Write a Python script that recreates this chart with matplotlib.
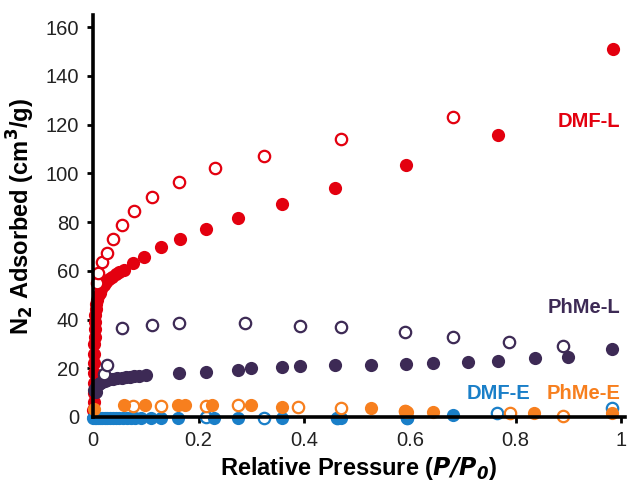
import matplotlib
matplotlib.use("Agg")
import matplotlib.pyplot as plt

plt.rcParams['font.family'] = ['Liberation Sans', 'DejaVu Sans']

# DMF-L (red)
dmfl_ads_x = [0.0005, 0.001, 0.001, 0.0015, 0.0015, 0.002, 0.002, 0.0025, 0.003, 0.003,
              0.0035, 0.004, 0.005, 0.006, 0.008, 0.010, 0.013, 0.016, 0.020, 0.025,
              0.030, 0.036, 0.043, 0.050, 0.059, 0.076, 0.097, 0.129, 0.164, 0.214,
              0.275, 0.357, 0.459, 0.592, 0.767, 0.985]
dmfl_ads_y = [3, 6, 10, 14, 18, 22, 26, 30, 33, 36,
              39, 42, 44.5, 46.5, 48, 49.5, 51, 52.5, 54, 55.5,
              56.5, 57.5, 58.5, 59.5, 60.5, 63, 65.6, 69.7, 73, 77,
              81.6, 87.4, 94, 103.4, 115.7, 151]
dmfl_des_x = [0.007, 0.010, 0.018, 0.026, 0.037, 0.055, 0.078, 0.111, 0.162, 0.231, 0.323, 0.469, 0.681]
dmfl_des_y = [55, 59, 63.6, 67.3, 73, 78.8, 84.6, 90.3, 96.4, 102, 107, 114, 123]

# PhMe-L (dark purple)
phmel_ads_x = [0.002, 0.003, 0.005, 0.006, 0.008, 0.011, 0.014, 0.018, 0.022, 0.027, 0.032,
               0.037, 0.046, 0.054, 0.062, 0.070, 0.078, 0.088, 0.100, 0.163, 0.214, 0.274,
               0.300, 0.358, 0.391, 0.459, 0.527, 0.592, 0.644, 0.709, 0.767, 0.837, 0.899, 0.983]
phmel_ads_y = [11, 10.5, 10.3, 12.3, 13, 13.5, 14, 14.4, 14.8, 15.2, 15.4,
               15.6, 16, 16.2, 16.4, 16.6, 16.8, 17, 17.2, 18, 18.5, 19.3,
               20, 20.5, 21, 21.3, 21.3, 21.7, 22.2, 22.6, 23, 24.2, 24.6, 27.9]
phmel_des_x = [0.020, 0.027, 0.055, 0.111, 0.162, 0.288, 0.391, 0.469, 0.590, 0.681, 0.788, 0.890]
phmel_des_y = [17.6, 21.3, 36.5, 37.7, 38.6, 38.6, 37.3, 36.9, 34.9, 32.8, 30.8, 29]

# DMF-E (blue)
dmfe_ads_x = [0.0, 0.003, 0.006, 0.010, 0.014, 0.018, 0.022, 0.027, 0.032, 0.037, 0.043,
              0.050, 0.057, 0.064, 0.072, 0.080, 0.090, 0.110, 0.129, 0.161, 0.230, 0.275,
              0.357, 0.463, 0.470, 0.594, 0.681]
dmfe_ads_y = [-0.4, -0.4, -0.4, -0.3, -0.4, -0.3, -0.4, -0.4, -0.3, -0.4, -0.4,
              -0.3, -0.4, -0.4, -0.3, -0.4, -0.3, -0.4, -0.3, -0.4, -0.3, -0.3,
              -0.3, -0.4, -0.4, -0.3, 1.0]
dmfe_des_x = [0.214, 0.323, 0.462, 0.594, 0.765, 0.983]
dmfe_des_y = [-0.2, -0.4, -0.3, -0.5, 1.6, 3.7]

# PhMe-E (orange)
phmee_ads_x = [0.002, 0.059, 0.099, 0.161, 0.175, 0.226, 0.300, 0.357, 0.527, 0.590, 0.595, 0.643, 0.835, 0.983]
phmee_ads_y = [3.3, 4.9, 4.9, 4.9, 4.9, 4.9, 4.9, 4.1, 3.7, 2.5, 2.2, 2.0, 1.6, 1.6]
phmee_des_x = [0.076, 0.129, 0.214, 0.275, 0.389, 0.469, 0.590, 0.789, 0.890]
phmee_des_y = [4.5, 4.5, 4.5, 4.9, 4.1, 3.7, 2.5, 1.6, 0.4]

red = '#e3000f'
purple = '#3d2a55'
blue = '#1a7fc8'
orange = '#f77f1e'

fig = plt.figure(figsize=(6.27, 4.82), dpi=100)
ax = fig.add_axes([0.1483, 0.1349, 0.8485, 0.834])

def filled(x, y, c):
    ax.plot(x, y, 'o', color=c, markersize=9.5, markeredgewidth=0, clip_on=False)

def hollow(x, y, c):
    ax.plot(x, y, 'o', markerfacecolor='white', markeredgecolor=c, markersize=8.2,
            markeredgewidth=1.6, clip_on=False)

filled(dmfl_ads_x, dmfl_ads_y, red)
hollow(dmfl_des_x, dmfl_des_y, red)
filled(phmel_ads_x, phmel_ads_y, purple)
hollow(phmel_des_x, phmel_des_y, purple)
hollow(dmfe_des_x, dmfe_des_y, blue)
filled(dmfe_ads_x, dmfe_ads_y, blue)
hollow(phmee_des_x, phmee_des_y, orange)
filled(phmee_ads_x, phmee_ads_y, orange)

# series labels
ax.text(0.998, 121.4, 'DMF-L', color=red, fontsize=14.5, fontweight='bold', ha='right', va='center')
ax.text(0.998, 45, 'PhMe-L', color=purple, fontsize=14.5, fontweight='bold', ha='right', va='center')
ax.text(0.827, 9.8, 'DMF-E', color=blue, fontsize=14.5, fontweight='bold', ha='right', va='center')
ax.text(0.998, 9.8, 'PhMe-E', color=orange, fontsize=14.5, fontweight='bold', ha='right', va='center')

ax.set_xlim(0, 1.007)
ax.set_ylim(0, 165)
ax.set_xticks([0, 0.2, 0.4, 0.6, 0.8, 1])
ax.set_xticklabels(['0', '0.2', '0.4', '0.6', '0.8', '1'])
ax.set_yticks(range(0, 161, 20))
for s in ['top', 'right']:
    ax.spines[s].set_visible(False)
for s in ['left', 'bottom']:
    ax.spines[s].set_linewidth(2.6)
ax.tick_params(axis='both', direction='out', width=2, length=4, labelsize=14.5,
               labelcolor='#222222', pad=6)

ax.set_xlabel('Relative Pressure ($\\mathbfit{P/P_0}$)', fontsize=17, fontweight='bold', labelpad=4)
ax.set_ylabel('N$_\\mathbf{2}$ Adsorbed (cm$^\\mathbf{3}$/g)', fontsize=17, fontweight='bold', labelpad=6)

fig.savefig('out.png', dpi=100)
